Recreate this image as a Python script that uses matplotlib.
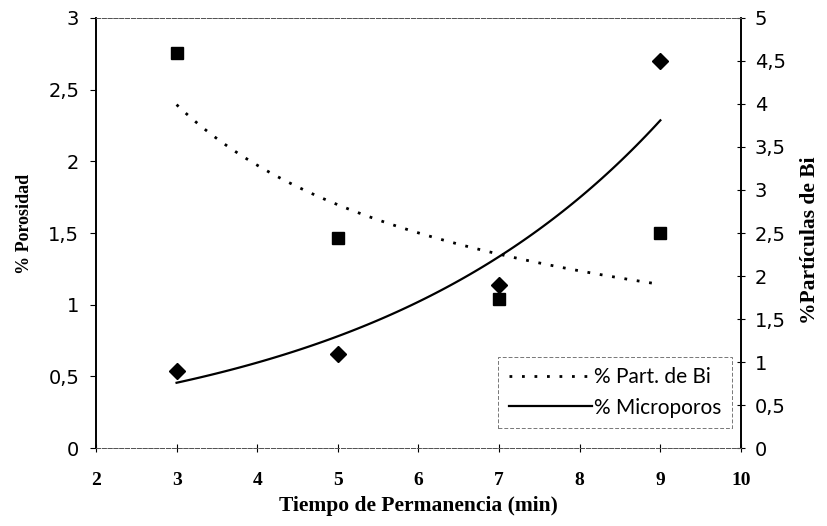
import numpy as np
import matplotlib.pyplot as plt

# Data
tiempo = [3, 5, 7, 9]
microporos = [0.54, 0.656, 1.137, 2.696]     # % Porosidad (left axis)
part_bi = [4.59, 2.44, 1.73, 2.50]          # % Particulas de Bi (right axis)

x_ticks = [2, 3, 4, 5, 6, 7, 8, 9, 10]
left_ticks = [0, 0.5, 1, 1.5, 2, 2.5, 3]
left_labels = ['0', '0,5', '1', '1,5', '2', '2,5', '3']
right_ticks = [0, 0.5, 1, 1.5, 2, 2.5, 3, 3.5, 4, 4.5, 5]
right_labels = ['0', '0,5', '1', '1,5', '2', '2,5', '3', '3,5', '4', '4,5', '5']

# Trend lines: power fit for Bi particles, exponential fit for micropores
xt = np.linspace(3, 9, 100)
b_pow, a_pow = np.polyfit(np.log(tiempo), np.log(part_bi), 1)
trend_bi = np.exp(a_pow) * xt ** b_pow
b_exp, a_exp = np.polyfit(tiempo, np.log(microporos), 1)
trend_mp = np.exp(a_exp) * np.exp(b_exp * xt)

fig = plt.figure(figsize=(8.27, 5.26), dpi=100)
ax = fig.add_axes([0.116, 0.148, 0.78, 0.818])
ax2 = ax.twinx()

ax.plot(tiempo, microporos, linestyle='none', marker='D', color='black', markersize=8)
l2, = ax.plot(xt, trend_mp, color='black', linewidth=1.6, label='% Microporos')
ax2.plot(tiempo, part_bi, linestyle='none', marker='s', color='black', markersize=9)
l1, = ax2.plot(xt, trend_bi, color='black', linewidth=2, linestyle=(0, (1, 3.5)),
               label='% Part. de Bi')

ax.set_xlim(2, 10)
ax.set_ylim(0, 3)
ax2.set_ylim(0, 5)
ax.set_xticks(x_ticks)
ax.set_xticklabels([str(v) for v in x_ticks], fontfamily='Liberation Serif',
                   fontweight='bold', fontsize=14)
ax.set_yticks(left_ticks)
ax.set_yticklabels(left_labels, fontfamily='DejaVu Sans', fontsize=14)
ax2.set_yticks(right_ticks)
ax2.set_yticklabels(right_labels, fontfamily='DejaVu Sans', fontsize=14)

ax.tick_params(axis='x', direction='inout', length=6, width=0.8, pad=14)
ax.tick_params(axis='y', direction='out', length=4, width=0.8, pad=8)
ax2.tick_params(axis='y', direction='inout', length=6, width=0.8, pad=7)

for a in (ax, ax2):
    a.spines['top'].set_linestyle((0, (4, 2)))
    a.spines['top'].set_linewidth(0.7)
    a.spines['top'].set_color('#555555')
    a.spines['bottom'].set_linestyle((0, (4, 2)))
    a.spines['bottom'].set_linewidth(0.7)
    a.spines['bottom'].set_color('#555555')
    a.spines['left'].set_linewidth(1.2)
    a.spines['right'].set_linewidth(1.2)

ax.set_xlabel('Tiempo de Permanencia (min)', fontfamily='Liberation Serif',
              fontweight='bold', fontsize=15.5, labelpad=5)
ax.set_ylabel('% Porosidad', fontfamily='Liberation Serif', fontweight='bold',
              fontsize=13)
ax.yaxis.set_label_coords(-0.098, 0.52)
ax2.set_ylabel('%Partículas de Bi', fontfamily='Liberation Serif', fontweight='bold',
               fontsize=15.5)
ax2.yaxis.set_label_coords(1.091, 0.484)

leg = ax2.legend(handles=[l1, l2], loc='lower right', bbox_to_anchor=(0.986, 0.047),
                 prop={'family': 'Lato', 'size': 15}, frameon=True, fancybox=False,
                 handlelength=4.0, handletextpad=0.1, borderpad=0.5, labelspacing=0.5,
                 borderaxespad=0)
leg.get_frame().set_edgecolor('#555555')
leg.get_frame().set_linestyle((0, (4, 2)))
leg.get_frame().set_linewidth(0.7)

fig.savefig('out.png', dpi=100)
